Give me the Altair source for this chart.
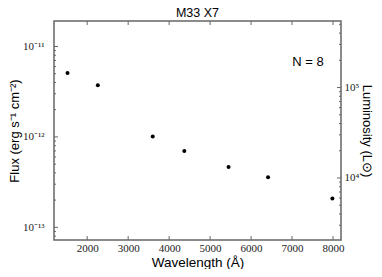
import altair as alt
import pandas as pd

# Data
wavelength = [1520, 2260, 3600, 4370, 5450, 6415, 7985]
flux = [5.1e-12, 3.72e-12, 1.01e-12, 7.0e-13, 4.65e-13, 3.58e-13, 2.08e-13]

x_domain = [1190, 8195]
flux_domain = [10 ** -13.14, 10 ** -10.718]
lum_domain = [10 ** 3.314, 10 ** 5.736]

x_ticks = [2000, 3000, 4000, 5000, 6000, 7000, 8000]
flux_major = [1e-13, 1e-12, 1e-11]
flux_minor = [8e-14, 9e-14] + [k * 1e-13 for k in range(2, 10)] + [k * 1e-12 for k in range(2, 10)]
lum_major = [1e4, 1e5]
lum_minor = [k * 1e3 for k in range(3, 10)] + [k * 1e4 for k in range(2, 10)] + [k * 1e5 for k in range(2, 6)]

W, H = 287, 219
FRAME = "#666666"
SERIF = "Liberation Serif"
SANS = "Liberation Sans"

pts = pd.DataFrame({"wavelength": wavelength, "flux": flux})
xscale = alt.Scale(domain=x_domain, nice=False, zero=False)
fscale = alt.Scale(type="log", domain=flux_domain, nice=False)
lscale = alt.Scale(type="log", domain=lum_domain, nice=False)

xaxis = alt.Axis(values=x_ticks, format="d", ticks=False, domain=False, grid=False,
                 labelFont=SERIF, labelFontSize=11, labelColor="#222", labelPadding=2,
                 title="Wavelength (Å)", titleFont=SANS, titleFontSize=13.5,
                 titleFontWeight="normal", titleColor="#000", titlePadding=2)

points = alt.Chart(pts).mark_circle(color="black", opacity=1, size=16).encode(
    x=alt.X("wavelength:Q", scale=xscale, axis=xaxis),
    y=alt.Y("flux:Q", scale=fscale, axis=alt.Axis(
        orient="left", values=flux_major, ticks=False, domain=False, grid=False,
        labelExpr="datum.value > 5e-12 ? '10⁻¹¹' : datum.value > 5e-13 ? '10⁻¹²' : '10⁻¹³'",
        labelFont=SERIF, labelFontSize=11, labelColor="#222", labelPadding=10,
        title="Flux (erg s⁻¹ cm⁻²)", titleFont=SANS, titleFontSize=13,
        titleFontWeight="normal", titleColor="#000", titlePadding=1)),
)

def yrules(values, scale, x0, x1, axis=None):
    df = pd.DataFrame({"v": values})
    return alt.Chart(df).mark_rule(color=FRAME, strokeWidth=1, clip=True).encode(
        y=alt.Y("v:Q", scale=scale, axis=axis),
        x=alt.value(x0), x2=alt.value(x1))

left_major = yrules(flux_major, fscale, 0, 4)
left_minor = yrules(flux_minor, fscale, 0, 2)
right_major = yrules(lum_major, lscale, W, W - 4, axis=alt.Axis(
    orient="right", values=lum_major, ticks=False, domain=False, grid=False,
    labelExpr="datum.value > 5e4 ? '10⁵' : '10⁴'",
    labelFont=SERIF, labelFontSize=11, labelColor="#222", labelPadding=3,
    title="Luminosity (L⊙)", titleFont=SANS, titleFontSize=13,
    titleFontWeight="normal", titleColor="#000", titlePadding=1))
right_minor = yrules(lum_minor, lscale, W, W - 2)

xdf = pd.DataFrame({"t": x_ticks})
bottom_ticks = alt.Chart(xdf).mark_rule(color=FRAME, strokeWidth=1).encode(
    x=alt.X("t:Q", scale=xscale, axis=xaxis), y=alt.value(H), y2=alt.value(H - 4))
top_ticks = alt.Chart(xdf).mark_rule(color=FRAME, strokeWidth=1).encode(
    x=alt.X("t:Q", scale=xscale, axis=xaxis), y=alt.value(0), y2=alt.value(4))

n_label = alt.Chart(pd.DataFrame({"label": ["N = 8"]})).mark_text(
    font=SANS, fontSize=13, color="black", align="center", baseline="middle"
).encode(text="label:N", x=alt.value(254), y=alt.value(41))

chart = alt.layer(
    points, left_major, left_minor, right_major, right_minor,
    bottom_ticks, top_ticks, n_label
).resolve_scale(y="independent").properties(
    width=W, height=H,
    title=alt.TitleParams("M33 X7", font=SANS, fontSize=12.5, fontWeight="normal",
                          color="black", offset=1, anchor="middle"),
    autosize=alt.AutoSizeParams(type="none"),
    padding={"left": 46, "top": 13, "right": 33, "bottom": 29},
).configure_view(stroke=FRAME, strokeWidth=1.5)

chart.save("out.html", embed_options={"renderer": "svg", "actions": False})
